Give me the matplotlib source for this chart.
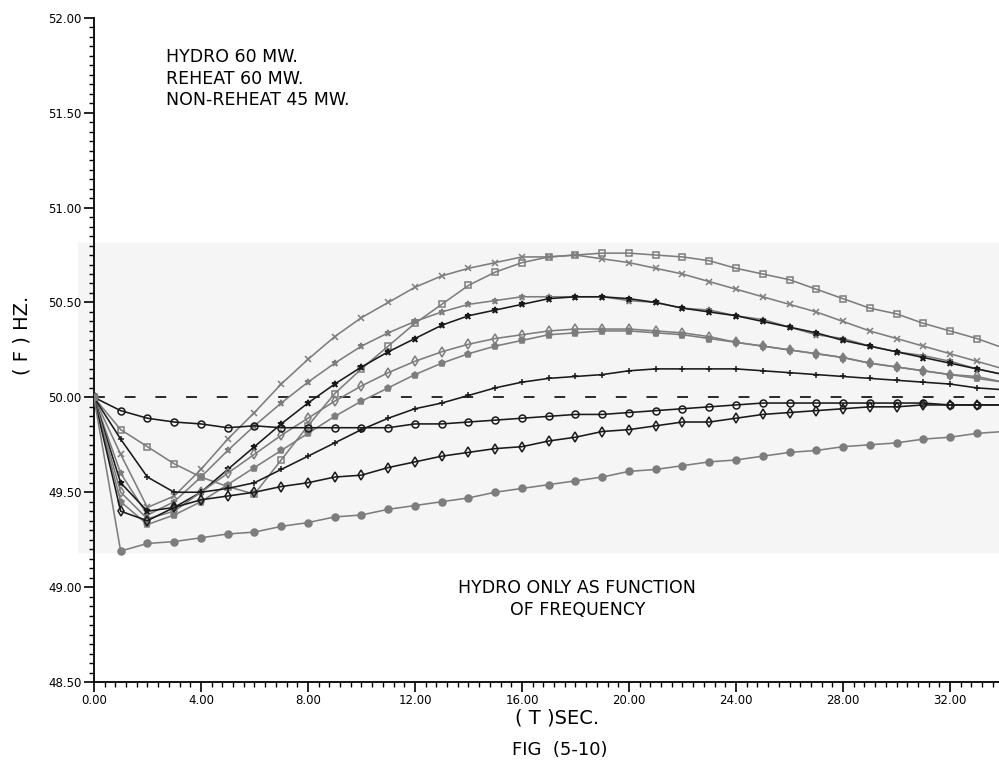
import matplotlib.pyplot as plt
from matplotlib.patches import Rectangle
from matplotlib.ticker import MultipleLocator, FormatStrFormatter

# time axis, one marker per second
t_sec = list(range(35))

f_x = [50.00, 49.70, 49.42, 49.48, 49.62, 49.78, 49.92, 50.07, 50.20, 50.32, 50.42, 50.50, 50.58, 50.64, 50.68,
       50.71, 50.74, 50.74, 50.75, 50.73, 50.71, 50.68, 50.65, 50.61, 50.57, 50.53, 50.49, 50.45, 50.40, 50.35,
       50.31, 50.27, 50.23, 50.19, 50.15]
f_sq = [50.00, 49.83, 49.74, 49.65, 49.58, 49.53, 49.49, 49.67, 49.85, 50.02, 50.15, 50.27, 50.39, 50.49, 50.59,
        50.66, 50.71, 50.74, 50.75, 50.76, 50.76, 50.75, 50.74, 50.72, 50.68, 50.65, 50.62, 50.57, 50.52, 50.47,
        50.44, 50.39, 50.35, 50.31, 50.26]
f_star1 = [50.00, 49.60, 49.38, 49.45, 49.58, 49.72, 49.85, 49.97, 50.08, 50.18, 50.27, 50.34, 50.40, 50.45, 50.49,
           50.51, 50.53, 50.53, 50.53, 50.53, 50.51, 50.50, 50.47, 50.46, 50.43, 50.41, 50.37, 50.33, 50.31, 50.27,
           50.24, 50.22, 50.19, 50.15, 50.12]
f_star2 = [50.00, 49.55, 49.40, 49.42, 49.50, 49.62, 49.74, 49.86, 49.97, 50.07, 50.16, 50.24, 50.31, 50.38, 50.43,
           50.46, 50.49, 50.52, 50.53, 50.53, 50.52, 50.50, 50.47, 50.45, 50.43, 50.40, 50.37, 50.34, 50.30, 50.27,
           50.24, 50.21, 50.18, 50.15, 50.12]
f_dia1 = [50.00, 49.50, 49.36, 49.40, 49.50, 49.60, 49.70, 49.80, 49.89, 49.98, 50.06, 50.13, 50.19, 50.24, 50.28,
          50.31, 50.33, 50.35, 50.36, 50.36, 50.36, 50.35, 50.34, 50.32, 50.29, 50.27, 50.25, 50.23, 50.21, 50.18,
          50.16, 50.14, 50.12, 50.11, 50.08]
f_dia2 = [50.00, 49.45, 49.33, 49.38, 49.45, 49.54, 49.63, 49.72, 49.81, 49.90, 49.98, 50.05, 50.12, 50.18, 50.23,
          50.27, 50.30, 50.33, 50.34, 50.35, 50.35, 50.34, 50.33, 50.31, 50.29, 50.27, 50.25, 50.23, 50.21, 50.18,
          50.16, 50.14, 50.12, 50.10, 50.08]
f_plus = [50.00, 49.78, 49.58, 49.50, 49.50, 49.52, 49.55, 49.62, 49.69, 49.76, 49.83, 49.89, 49.94, 49.97, 50.01,
          50.05, 50.08, 50.10, 50.11, 50.12, 50.14, 50.15, 50.15, 50.15, 50.15, 50.14, 50.13, 50.12, 50.11, 50.10,
          50.09, 50.08, 50.07, 50.05, 50.04]
f_circ = [50.00, 49.93, 49.89, 49.87, 49.86, 49.84, 49.85, 49.84, 49.84, 49.84, 49.84, 49.84, 49.86, 49.86, 49.87,
          49.88, 49.89, 49.90, 49.91, 49.91, 49.92, 49.93, 49.94, 49.95, 49.96, 49.97, 49.97, 49.97, 49.97, 49.97,
          49.97, 49.97, 49.96, 49.96, 49.96]
f_diam = [50.00, 49.40, 49.35, 49.42, 49.46, 49.48, 49.50, 49.53, 49.55, 49.58, 49.59, 49.63, 49.66, 49.69, 49.71,
          49.73, 49.74, 49.77, 49.79, 49.82, 49.83, 49.85, 49.87, 49.87, 49.89, 49.91, 49.92, 49.93, 49.94, 49.95,
          49.95, 49.96, 49.96, 49.96, 49.96]
f_bot = [50.00, 49.19, 49.23, 49.24, 49.26, 49.28, 49.29, 49.32, 49.34, 49.37, 49.38, 49.41, 49.43, 49.45, 49.47,
         49.50, 49.52, 49.54, 49.56, 49.58, 49.61, 49.62, 49.64, 49.66, 49.67, 49.69, 49.71, 49.72, 49.74, 49.75,
         49.76, 49.78, 49.79, 49.81, 49.82]

f_ref = 50.00

fig = plt.figure(figsize = (9.99, 7.75), dpi = 100)
ax = fig.add_axes([0.094, 0.12, 0.906, 0.857])
ax.set_facecolor('none')
# faint grey band left by the scan
ax.add_patch(Rectangle((78 / 999, 1 - 552 / 775), 921 / 999, 309 / 775, transform = fig.transFigure,
                       color = '#f5f5f5', zorder = 0, clip_on = False))

grey, dark = '#7d7d7d', '#1a1a1a'
curves = [(f_sq, 's', grey, False), (f_x, 'x', grey, False), (f_star1, '*', grey, True), (f_star2, '*', dark, True),
          (f_dia1, 'd', grey, False), (f_dia2, 'p', grey, True), (f_plus, '+', dark, False), (f_circ, 'o', dark, False),
          (f_diam, 'd', dark, False), (f_bot, 'o', grey, True)]

for vals, mk, col, filled in curves:
    ax.plot(t_sec, vals, color = col, linewidth = 1.15, marker = mk, markersize = 5,
            markerfacecolor = col if filled else 'none', markeredgecolor = col, markeredgewidth = 1.1,
            zorder = 3)

ax.axhline(f_ref, color = dark, linewidth = 1.3, linestyle = (0, (6, 11)), zorder = 2)

ax.set_xlim(0, 33.83); ax.set_ylim(48.5, 52.0)
ax.set_xticks([0, 4, 8, 12, 16, 20, 24, 28, 32])
ax.set_yticks([48.5, 49.0, 49.5, 50.0, 50.5, 51.0, 51.5, 52.0])
ax.xaxis.set_minor_locator(MultipleLocator(0.4)); ax.yaxis.set_minor_locator(MultipleLocator(0.05))
ax.xaxis.set_major_formatter(FormatStrFormatter('%.2f')); ax.yaxis.set_major_formatter(FormatStrFormatter('%.2f'))
ax.tick_params(axis = 'both', which = 'major', direction = 'out', length = 7, width = 1.2, labelsize = 8.5, pad = 2)
ax.tick_params(axis = 'both', which = 'minor', direction = 'out', length = 3.5, width = 1)

for side in ('top', 'right'):
    ax.spines[side].set_visible(False)
for side in ('left', 'bottom'):
    ax.spines[side].set_linewidth(1.3)

fig.text(0.022, 0.567, '( F ) HZ.', rotation = 90, fontsize = 14, ha = 'center', va = 'center')
fig.text(0.558, 0.073, '( T )SEC.', fontsize = 14, ha = 'center', va = 'center')
fig.text(0.56, 0.032, 'FIG  (5-10)', fontsize = 13, ha = 'center', va = 'center')

fig.text(0.166, 0.926, 'HYDRO 60 MW.', fontsize = 12.5, ha = 'left', va = 'center')
fig.text(0.166, 0.898, 'REHEAT 60 MW.', fontsize = 12.5, ha = 'left', va = 'center')
fig.text(0.166, 0.871, 'NON-REHEAT 45 MW.', fontsize = 12.5, ha = 'left', va = 'center')

fig.text(0.578, 0.241, 'HYDRO ONLY AS FUNCTION', fontsize = 12.5, ha = 'center', va = 'center')
fig.text(0.578, 0.213, 'OF FREQUENCY', fontsize = 12.5, ha = 'center', va = 'center')

plt.savefig('out.png', dpi = 100, facecolor = 'white')
plt.close()
